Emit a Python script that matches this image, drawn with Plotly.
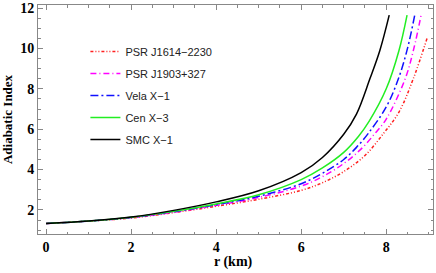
import plotly.graph_objects as go

names = ["PSR J1614\u22122230", "PSR J1903+327", "Vela X\u22121", "Cen X\u22123", "SMC X\u22121"]
colors = ["#FF2020", "#FF00FF", "#1010FF", "#22EE22", "#000000"]
dashes = ["3px,2px,1px,2px,1px,2px", "6px,3px,1px,3px", "8px,3px,2px,3px", "solid", "solid"]

r_j1614 = [0, 1, 2, 3, 4, 5, 6, 6.5, 7, 7.5, 7.94, 8.3, 8.64, 8.96]
g_j1614 = [1.33, 1.45, 1.60, 1.87, 2.18, 2.53, 2.97, 3.35, 3.90, 4.70, 5.80, 6.85, 8.52, 10.5]

r_j1903 = [0, 1, 2, 3, 4, 5, 6, 6.5, 7, 7.4, 7.74, 8.0, 8.45, 8.65, 8.82]
g_j1903 = [1.33, 1.45, 1.62, 1.89, 2.23, 2.62, 3.18, 3.65, 4.30, 5.00, 5.80, 6.50, 8.52, 10.0, 11.65]

r_vela = [0, 1, 2, 3, 4, 5, 6, 6.5, 7, 7.3, 7.58, 8.0, 8.29, 8.5, 8.67]
g_vela = [1.33, 1.45, 1.63, 1.91, 2.26, 2.68, 3.30, 3.82, 4.50, 5.10, 5.80, 7.10, 8.52, 10.0, 11.65]

r_cen = [0, 1, 2, 3, 4, 5, 6, 6.5, 7, 7.35, 7.6, 8.0, 8.3, 8.49]
g_cen = [1.33, 1.45, 1.64, 1.93, 2.30, 2.75, 3.50, 4.08, 4.85, 5.65, 6.40, 8.0, 9.9, 11.65]

r_smc = [0, 1, 2, 3, 4, 5, 6, 6.5, 7, 7.3, 7.62, 7.85, 8.07]
g_smc = [1.33, 1.45, 1.65, 1.98, 2.40, 2.95, 3.85, 4.60, 5.75, 6.75, 8.52, 9.90, 11.65]

series_r = [r_j1614, r_j1903, r_vela, r_cen, r_smc]
series_g = [g_j1614, g_j1903, g_vela, g_cen, g_smc]

fig = go.Figure()
for i, name in enumerate(names):
    fig.add_trace(go.Scatter(
        x=series_r[i], y=series_g[i], mode="lines", name=name,
        legendgroup=f"g{i}",
        line=dict(color=colors[i], width=1.5, dash=dashes[i], shape="spline", smoothing=1.0),
    ))

axis_common = dict(
    showline=True, linecolor="#888888", linewidth=1, mirror="allticks",
    ticks="inside", ticklen=5, tickwidth=1, tickcolor="#888888",
    showgrid=False, zeroline=False, automargin=False,
    tickfont=dict(family="Liberation Serif", size=14, color="black", weight="bold"),
)

fig.update_layout(
    width=436, height=273,
    margin=dict(l=38, r=3, t=5, b=39),
    paper_bgcolor="white", plot_bgcolor="white",
    xaxis=dict(range=[-0.19, 9.1], tick0=0, dtick=2,
               minor=dict(dtick=0.5, ticks="inside", ticklen=2.5, tickcolor="#888888"),
               **axis_common),
    yaxis=dict(range=[0.81, 12.15], tick0=0, dtick=2,
               minor=dict(dtick=0.5, ticks="inside", ticklen=2.5, tickcolor="#888888"),
               title=dict(text="Adiabatic Index", font=dict(family="Liberation Serif", size=13, color="black", weight="bold"), standoff=6),
               **axis_common),
    legend=dict(x=0.12, y=0.86, xanchor="left", yanchor="top",
                traceorder="grouped", tracegroupgap=3,
                bgcolor="rgba(0,0,0,0)",
                font=dict(family="Liberation Sans", size=11, color="#222222")),
    showlegend=True,
    annotations=[dict(text="r (km)", xref="paper", yref="paper", x=0.494, y=-0.122,
                      xanchor="center", yanchor="middle", showarrow=False,
                      font=dict(family="Liberation Serif", size=14, color="black", weight="bold"))],
)

fig.write_html("out.html", config={"displayModeBar": False},
               post_script="document.body.style.margin='0';")
